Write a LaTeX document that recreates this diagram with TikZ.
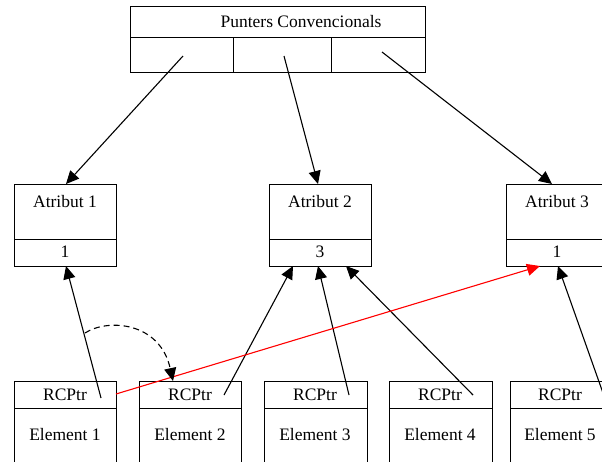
\documentclass[tikz,border=0pt]{standalone}
\usepackage{fontspec}
\setmainfont{Liberation Serif}
\usetikzlibrary{arrows.meta}
\begin{document}
\begin{tikzpicture}[x=1pt,y=-1pt,
  cell/.style={draw,line width=1.3pt,inner sep=0pt,anchor=north west},
  lbl/.style={inner sep=0pt,font=\fontsize{17.5}{20}\selectfont},
  conn/.style={line width=1.1pt,-{Triangle[length=13pt,width=12pt]}},
  redconn/.style={conn,red},
  dashconn/.style={conn,dashed,dash pattern=on 6pt off 4pt}]
\useasboundingbox (0,0) rectangle (602,461);
\clip (0,0) rectangle (602,461);
% top record
\node[cell,minimum width=295pt,minimum height=31pt] (ptop) at (130,6) {};
\node[cell,minimum width=103pt,minimum height=35pt] (pc1) at (130,37) {};
\node[cell,minimum width=98pt,minimum height=35pt] (pc2) at (233,37) {};
\node[cell,minimum width=94pt,minimum height=35pt] (pc3) at (331,37) {};
\node[lbl] (ptext) at (301,22) {Punters Convencionals};
% atribut records
\foreach \n/\x/\w/\v in {1/14/102/1,2/269/102/3,3/506/100/1}{
  \node[cell,minimum width=\w pt,minimum height=55pt] (at\n) at (\x,184) {};
  \node[cell,minimum width=\w pt,minimum height=27pt] (av\n) at (\x,239) {};
}
\node[lbl] (at1t) at (65,202) {Atribut 1};
\node[lbl] (at2t) at (320,202) {Atribut 2};
\node[lbl] (at3t) at (557,202) {Atribut 3};
\node[lbl] (av1t) at (65,252) {1};
\node[lbl] (av2t) at (320,252) {3};
\node[lbl] (av3t) at (557,252) {1};
% element records
\foreach \n/\x/\w in {1/14/102,2/139/102,3/264/103,4/389/103,5/510/110}{
  \node[cell,minimum width=\w pt,minimum height=27pt] (er\n) at (\x,381) {};
  \node[cell,minimum width=\w pt,minimum height=70pt] (ee\n) at (\x,408) {};
}
\foreach \n/\c in {1/65,2/190,3/315,4/440,5/560}{
  \node[lbl] (er\n t) at (\c,395) {RCPtr};
  \node[lbl] (ee\n t) at (\c,435) {Element \n};
}
% port coordinates
\coordinate (s1) at (183,56);
\coordinate (s2) at (284,56);
\coordinate (s3) at (382,52);
\coordinate (t1) at (66,184);
\coordinate (t2) at (318,184);
\coordinate (t3) at (552,184);
\coordinate (e1) at (101,398);
\coordinate (e2) at (224,395);
\coordinate (e3) at (349,395);
\coordinate (e4) at (473,395);
\coordinate (e5) at (603,393);
\coordinate (b1) at (66,266);
\coordinate (b2) at (293,266);
\coordinate (b3) at (318,266);
\coordinate (b4) at (346,266);
\coordinate (b5) at (558,266);
\coordinate (r1) at (116,394);
\coordinate (r2) at (540,266);
\coordinate (d1) at (85,333);
\coordinate (d2) at (173,381);
% connectors
\draw[conn] (s1) -- (t1);
\draw[conn] (s2) -- (t2);
\draw[conn] (s3) -- (t3);
\draw[conn] (e1) -- (b1);
\draw[conn] (e2) -- (b2);
\draw[conn] (e3) -- (b3);
\draw[conn] (e4) -- (b4);
\draw[conn] (e5) -- (b5);
\draw[redconn] (r1) -- (r2);
\draw[dashconn] (d1) .. controls (108,318) and (160,322) .. (d2);
\end{tikzpicture}
\end{document}
